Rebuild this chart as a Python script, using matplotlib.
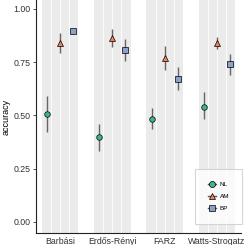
import matplotlib
matplotlib.use("Agg")
import matplotlib.pyplot as plt
from matplotlib.lines import Line2D
import numpy as np

categories = ["Barbási", "Erdős-Rényi", "FARZ", "Watts-Strogatz"]
methods = ["NL", "AM", "BP"]
mean_NL = [0.507, 0.398, 0.484, 0.541]
low_NL = [0.423, 0.335, 0.435, 0.482]
high_NL = [0.593, 0.459, 0.534, 0.609]
mean_AM = [0.839, 0.862, 0.769, 0.839]
low_AM = [0.795, 0.823, 0.712, 0.812]
high_AM = [0.886, 0.905, 0.826, 0.867]
mean_BP = [0.897, 0.808, 0.673, 0.740]
low_BP = [0.892, 0.757, 0.618, 0.689]
high_BP = [0.902, 0.858, 0.728, 0.789]
yticks = [0.00, 0.25, 0.50, 0.75, 1.00]

colors = {"NL": "#3fb58e", "AM": "#f4835c", "BP": "#8da0cb"}
markers = {"NL": "o", "AM": "^", "BP": "s"}
msize = {"NL": 4.0, "AM": 4.6, "BP": 4.0}
means = {"NL": mean_NL, "AM": mean_AM, "BP": mean_BP}
lows = {"NL": low_NL, "AM": low_AM, "BP": low_BP}
highs = {"NL": high_NL, "AM": high_AM, "BP": high_BP}
offsets = {"NL": -0.25, "AM": 0.0, "BP": 0.25}

plt.rcParams['font.family'] = ['Liberation Sans', 'DejaVu Sans']

fig = plt.figure(figsize=(2.5, 2.45), dpi=100)
ax = fig.add_axes([36 / 250, 12 / 245, 205 / 250, 233 / 245])

x = np.arange(1, len(categories) + 1)
for xi in x:
    ax.axvspan(xi - 0.35, xi + 0.35, color="#ebebeb", lw=0, zorder=0)
    for d in (-0.175, 0.0, 0.175):
        ax.axvline(xi + d, color="white", lw=0.6, zorder=0.5)

handles = []
for m in methods:
    xs = x + offsets[m]
    mu = np.array(means[m])
    lo = mu - np.array(lows[m])
    hi = np.array(highs[m]) - mu
    ax.errorbar(xs, mu, yerr=[lo, hi], fmt=markers[m], color="#666666",
                ecolor="#666666", elinewidth=1.0, capsize=0,
                markerfacecolor=colors[m], markeredgecolor="black",
                markeredgewidth=0.5, markersize=msize[m], label=m, zorder=3)
    handles.append(Line2D([], [], color="#555555", lw=1.0, marker=markers[m],
                          markerfacecolor=colors[m], markeredgecolor="black",
                          markeredgewidth=0.5, markersize=msize[m] + 0.4))

ax.set_xlim(0.541, 4.459)
ax.set_ylim(-0.052, 1.042)
ax.set_yticks(yticks)
ax.set_yticklabels([f"{v:.2f}" for v in yticks])
ax.set_xticks(x)
ax.set_xticklabels(categories)
ax.tick_params(axis="x", length=0, labelsize=6.3, pad=3, colors="#333333")
ax.tick_params(axis="y", length=2, width=0.6, labelsize=6.3, pad=2, colors="#333333")
ax.set_ylabel("accuracy", fontsize=6.5, labelpad=2)
for s in ("top", "right"):
    ax.spines[s].set_visible(False)
for s in ("left", "bottom"):
    ax.spines[s].set_linewidth(0.8)
    ax.spines[s].set_color("#222222")

leg = ax.legend(handles=handles, labels=methods, loc="center",
                bbox_to_anchor=((218.5 - 36) / 205, (233 - 196.5) / 233),
                fontsize=4.6, frameon=True, fancybox=False, borderpad=2.0,
                labelspacing=1.05, handlelength=1.3, handletextpad=0.6,
                borderaxespad=0)
leg.get_frame().set_edgecolor("#cccccc")
leg.get_frame().set_linewidth(0.8)

fig.savefig("out.png", dpi=100)
